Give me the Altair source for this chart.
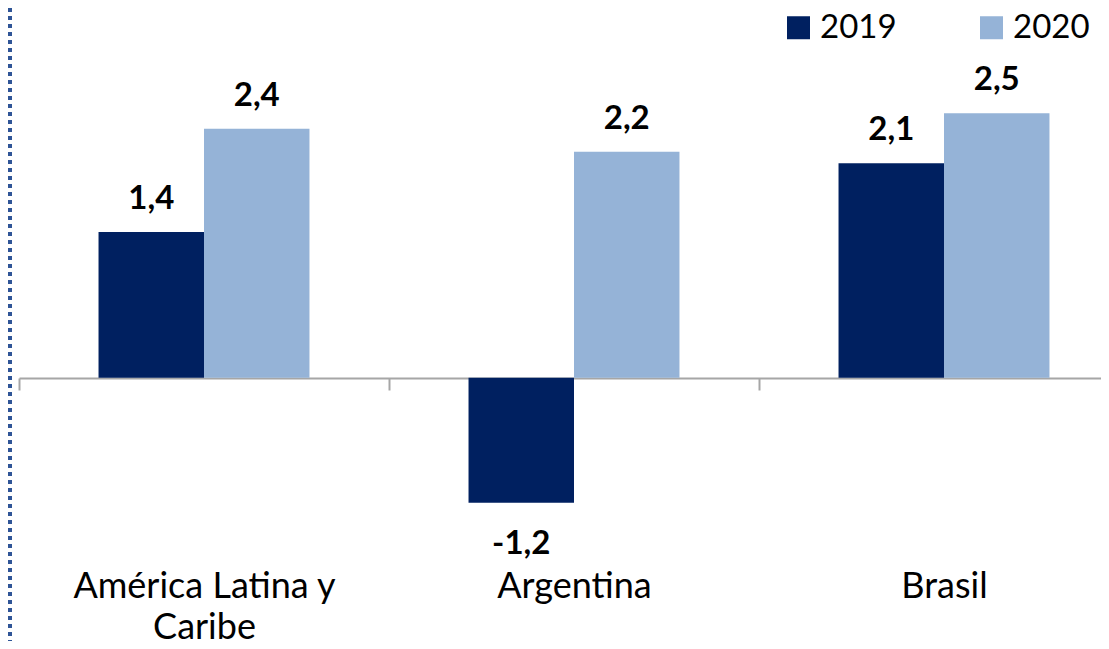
import altair as alt
import pandas as pd

categories = ["América Latina y Caribe", "Argentina", "Brasil"]
series = ["2019", "2020"]
values_2019 = [1.40, -1.20, 2.06]
values_2020 = [2.39, 2.17, 2.54]
colors = ["#002060", "#95B3D7"]

rows = []
for i, c in enumerate(categories):
    for yr, vals in (("2019", values_2019), ("2020", values_2020)):
        v = vals[i]
        rows.append({"cat": c, "year": yr, "value": v,
                     "label": f"{v:.1f}".replace(".", ",")})
df = pd.DataFrame(rows)

FONT = "Lato"
W = 1082
H = 552

x_scale = alt.Scale(domain=categories, range=[0, 1110], paddingInner=0, paddingOuter=0)
y_scale = alt.Scale(domain=[-1.75, 3.55], nice=False, zero=False)

x_axis = alt.Axis(
    offset=-182,
    tickBand="extent",
    domainColor="#A6A6A6", domainWidth=2,
    tickColor="#A6A6A6", tickWidth=2, tickSize=12,
    labelAngle=0, labelFont=FONT, labelFontSize=36, labelColor="black",
    labelPadding=179, labelBaseline="top", labelLineHeight=41,
    labelExpr="datum.value == 'América Latina y Caribe' ? ['América Latina y', 'Caribe'] : datum.value",
    labelFlush=False, labelOverlap=False, labelBound=False, labelLimit=0,
    grid=False, title=None,
)

base = alt.Chart(df).encode(
    x=alt.X("cat:N", scale=x_scale, sort=categories, title=None, axis=x_axis),
    xOffset=alt.XOffset("year:N", sort=series,
                        scale=alt.Scale(paddingOuter=0.754, paddingInner=0)),
    y=alt.Y("value:Q", scale=y_scale, axis=None),
)

bars = base.mark_bar().encode(
    color=alt.Color(
        "year:N",
        scale=alt.Scale(domain=series, range=colors),
        legend=alt.Legend(
            orient="none", legendX=763, legendY=3, direction="horizontal",
            title=None, symbolType="square", symbolSize=529, symbolStrokeWidth=0,
            symbolOpacity=1, labelFont=FONT, labelFontSize=33, labelColor="black",
            columnPadding=78, labelOffset=5, padding=0,
        ),
    )
)

text_pos = base.mark_text(
    dy=-23, baseline="alphabetic", fontSize=33, fontWeight="bold", font=FONT, color="black"
).encode(text="label:N").transform_filter("datum.value >= 0")

text_neg = base.mark_text(
    dy=51, baseline="alphabetic", fontSize=33, fontWeight="bold", font=FONT, color="black"
).encode(text="label:N").transform_filter("datum.value < 0")

border = alt.Chart(pd.DataFrame({"a": [0]})).mark_rule(
    strokeDash=[4, 4], strokeWidth=4, color="#2F5597"
).encode(x=alt.value(-9), y=alt.value(0), y2=alt.value(660))

chart = alt.layer(bars, text_pos, text_neg, border).properties(
    width=W, height=H,
    padding={"left": 11, "top": 0, "right": 0, "bottom": 81},
    autosize="none",
).configure_view(stroke=None)

chart.save("out.html", embed_options={"renderer": "svg", "actions": False})
